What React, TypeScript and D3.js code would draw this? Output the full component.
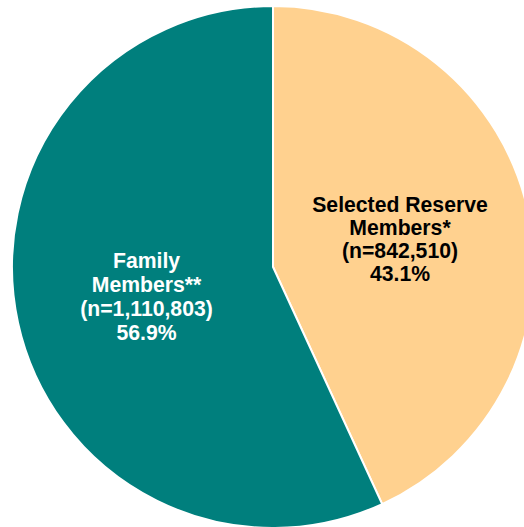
import React from "react";
import * as d3 from "d3";

const categories = ["Selected Reserve Members*", "Family Members**"];
const counts = [842510, 1110803];
const percents = ["43.1%", "56.9%"];
const labelLines = [
  ["Selected Reserve", "Members*", "(n=842,510)", "43.1%"],
  ["Family", "Members**", "(n=1,110,803)", "56.9%"],
];
const colors = ["#FFD18F", "#007F7D"];
const textColors = ["#000000", "#FFFFFF"];

export default function App() {
  const width = 524;
  const height = 527;
  const cx = 273;
  const cy = 267;
  const r = 261;

  const data = categories.map((c, i) => ({ name: c, value: counts[i], pct: percents[i], i }));
  const pie = d3.pie<any>().value((d) => d.value).sort(null);
  const arcs = pie(data);
  const arc = d3.arc<any>().innerRadius(0).outerRadius(r);

  const fontSize = 21.2;
  // first baseline and line spacing per label
  const labelPos = [
    { x: 400, y0: 211.5, dy: 23 },
    { x: 146.5, y0: 268, dy: 24 },
  ];

  return (
    <svg
      width={width}
      height={height}
      style={{ position: "absolute", left: 0, top: 0 }}
    >
      <rect width={width} height={height} fill="#ffffff" />
      <g transform={`translate(${cx},${cy})`}>
        {arcs.map((a, k) => (
          <path
            key={k}
            d={arc(a) as string}
            fill={colors[k]}
            stroke="#ffffff"
            strokeWidth={2}
            strokeLinejoin="miter"
          />
        ))}
      </g>
      {arcs.map((a, k) => {
        const p = labelPos[k];
        const lines = labelLines[k];
        return (
          <text
            key={"t" + k}
            textAnchor="middle"
            fontFamily="'Liberation Sans', Arial, sans-serif"
            fontWeight="bold"
            fontSize={fontSize}
            fill={textColors[k]}
          >
            {lines.map((ln, j) => (
              <tspan key={j} x={p.x} y={p.y0 + j * p.dy}>
                {ln}
              </tspan>
            ))}
          </text>
        );
      })}
    </svg>
  );
}
